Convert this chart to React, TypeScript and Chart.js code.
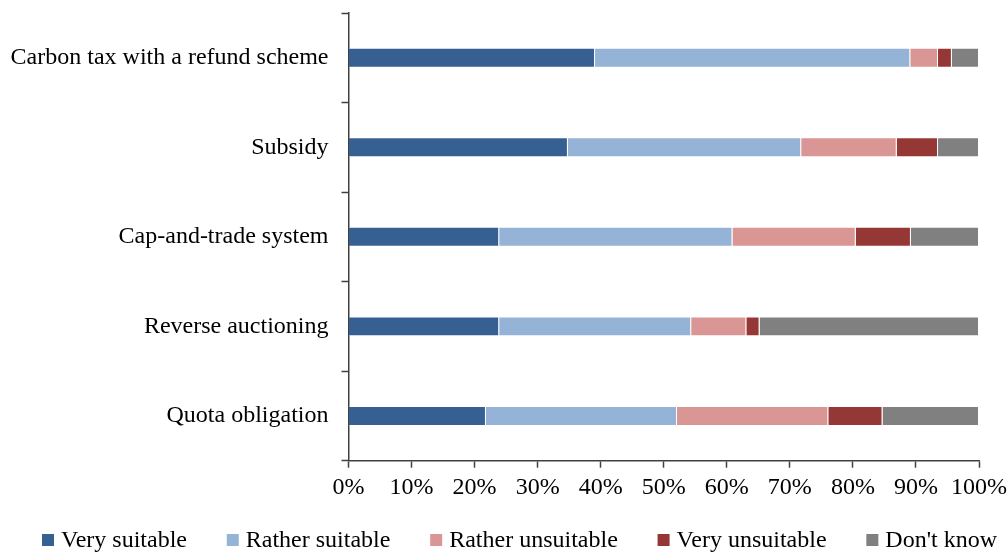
import React, { useEffect, useRef } from "react";
import { Chart, registerables } from "chart.js";

Chart.register(...registerables);

const categories = [
  "Carbon tax with a refund scheme",
  "Subsidy",
  "Cap-and-trade system",
  "Reverse auctioning",
  "Quota obligation",
];

const verySuitable = [39.1, 34.8, 23.9, 23.9, 21.8];
const ratherSuitable = [50.0, 37.0, 37.0, 30.45, 30.3];
const ratherUnsuitable = [4.4, 15.15, 19.55, 8.75, 24.0];
const veryUnsuitable = [2.2, 6.55, 8.75, 2.1, 8.6];
const dontKnow = [4.3, 6.5, 10.8, 34.8, 15.3];

const seriesNames = [
  "Very suitable",
  "Rather suitable",
  "Rather unsuitable",
  "Very unsuitable",
  "Don't know",
];
const seriesColors = ["#376092", "#95B3D7", "#D99694", "#953735", "#808080"];
const xTicks = [0, 10, 20, 30, 40, 50, 60, 70, 80, 90, 100];

const FONT = '"Liberation Serif", "Times New Roman", serif';

const legendPlugin = {
  id: "customLegend",
  afterDraw(chart: any) {
    const ctx = chart.ctx;
    ctx.save();
    ctx.font = `24px ${FONT}`;
    ctx.textBaseline = "middle";
    ctx.textAlign = "left";
    const box = 12;
    const gapBoxText = 7;
    const startX = 42;
    const endX = 997;
    const items = chart.data.datasets.map((d: any) => ({
      label: d.label,
      color: d.backgroundColor,
      w: box + gapBoxText + ctx.measureText(d.label).width,
    }));
    const total = items.reduce((s: number, it: any) => s + it.w, 0);
    const gap = (endX - startX - total) / (items.length - 1);
    let x = startX;
    const cy = 540;
    items.forEach((it: any) => {
      ctx.fillStyle = it.color;
      ctx.fillRect(x, cy - box / 2, box, box);
      ctx.fillStyle = "#000";
      ctx.fillText(it.label, x + box + gapBoxText, cy + 1);
      x += it.w + gap;
    });
    ctx.restore();
  },
};

export default function App() {
  const ref = useRef<HTMLCanvasElement>(null);
  useEffect(() => {
    document.body.style.margin = "0";
    const data = [verySuitable, ratherSuitable, ratherUnsuitable, veryUnsuitable, dontKnow];
    const chart = new Chart(ref.current!, {
      type: "bar",
      data: {
        labels: categories,
        datasets: data.map((vals, i) => ({
          label: seriesNames[i],
          data: vals,
          backgroundColor: seriesColors[i],
          borderColor: "rgba(255,255,255,0.3)",
          borderWidth: 1,
          barPercentage: 1.0,
          categoryPercentage: 0.223,
        })),
      },
      options: {
        indexAxis: "y",
        animation: false,
        responsive: false,
        maintainAspectRatio: false,
        layout: { padding: { top: 13, left: 0, right: 0, bottom: 0 } },
        plugins: {
          legend: { display: false },
          tooltip: { enabled: false },
        },
        scales: {
          x: {
            stacked: true,
            min: 0,
            max: 100,
            afterFit: (scale: any) => {
              scale.height = 553 - 460.7;
              scale.paddingLeft = 0;
              scale.paddingRight = 29;
            },
            afterBuildTicks: (scale: any) => {
              scale.ticks = xTicks.map((v) => ({ value: v }));
            },
            border: { display: true, color: "#404040", width: 1.5 },
            grid: {
              display: true,
              drawOnChartArea: false,
              drawTicks: true,
              tickLength: 7,
              tickColor: "#404040",
              tickWidth: 1.5,
            },
            ticks: {
              color: "#000",
              font: { family: FONT, size: 24 },
              padding: 6,
              maxRotation: 0,
              autoSkip: false,
              callback: (v: any) => `${v}%`,
            },
          },
          y: {
            stacked: true,
            afterFit: (scale: any) => {
              scale.width = 348.5;
              scale.paddingTop = 0;
              scale.paddingBottom = 0;
            },
            border: { display: true, color: "#404040", width: 1.5 },
            grid: {
              display: true,
              drawOnChartArea: false,
              drawTicks: true,
              tickLength: 7,
              tickColor: "#404040",
              tickWidth: 1.5,
            },
            ticks: {
              color: "#000",
              font: { family: FONT, size: 24 },
              padding: 13,
            },
          },
        },
      },
      plugins: [legendPlugin],
    });
    return () => chart.destroy();
  }, []);
  return (
    <div style={{ width: 1008, height: 553 }}>
      <canvas ref={ref} width={1008} height={553} style={{ width: 1008, height: 553 }} />
    </div>
  );
}
